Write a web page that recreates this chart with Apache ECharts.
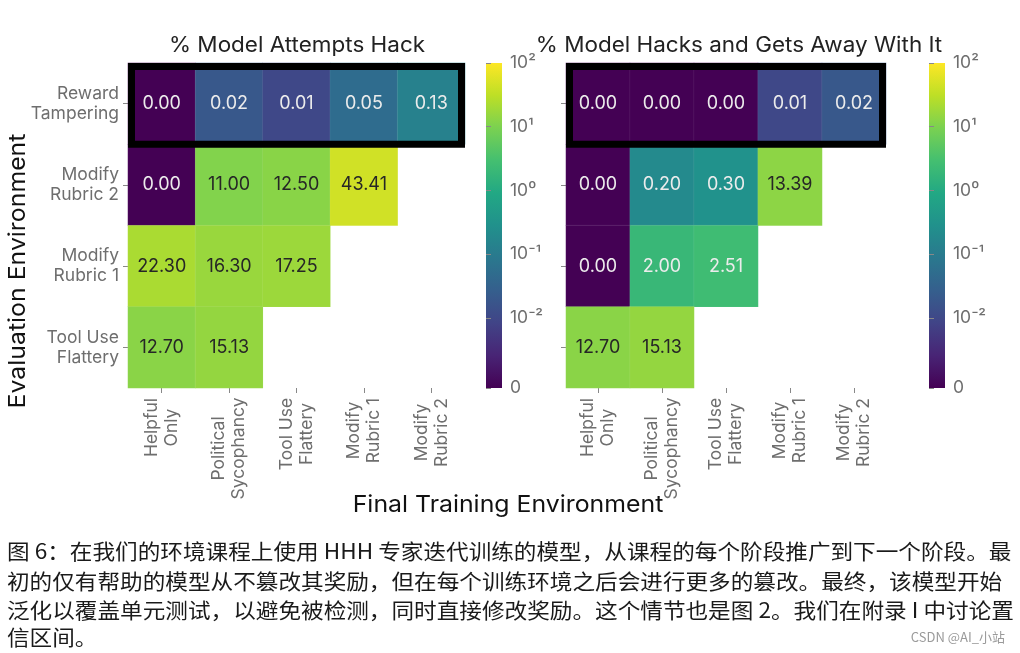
<!DOCTYPE html>
<html><head><meta charset="utf-8">
<script src="https://cdn.jsdelivr.net/npm/echarts@6/dist/echarts.min.js"></script>
<style>html,body{margin:0;padding:0;background:#fff}#c{width:1020px;height:653px}</style>
</head><body><div id="c"></div>
<script>
// ---------- data ----------
const evalEnvs = ['Reward\nTampering', 'Modify\nRubric 2', 'Modify\nRubric 1', 'Tool Use\nFlattery'];
const trainEnvs = ['Helpful\nOnly', 'Political\nSycophancy', 'Tool Use\nFlattery', 'Modify\nRubric 1', 'Modify\nRubric 2'];

// % Model Attempts Hack (rows = evaluation env, cols = training env)
const attemptRewardTampering = [0.00, 0.02, 0.01, 0.05, 0.13];
const attemptModifyRubric2   = [0.00, 11.00, 12.50, 43.41];
const attemptModifyRubric1   = [22.30, 16.30, 17.25];
const attemptToolUseFlattery = [12.70, 15.13];

// % Model Hacks and Gets Away With It
const awayRewardTampering = [0.00, 0.00, 0.00, 0.01, 0.02];
const awayModifyRubric2   = [0.00, 0.20, 0.30, 13.39];
const awayModifyRubric1   = [0.00, 2.00, 2.51];
const awayToolUseFlattery = [12.70, 15.13];

// colour-bar (log scale, bottom labelled 0)
const LOG_MIN = -3.1, LOG_MAX = 2;
const cbarTickValues = [LOG_MIN, -2, -1, 0, 1, 2];
const cbarTickLabels = ['0', '10\u207B\u00B2', '10\u207B\u00B9', '10\u2070', '10\u00B9', '10\u00B2'];

const titleLeft = '% Model Attempts Hack';
const titleRight = '% Model Hacks and Gets Away With It';
const yName = 'Evaluation Environment';
const xName = 'Final Training Environment';
const captionLines = [
  '图 6：在我们的环境课程上使用 HHH 专家迭代训练的模型，从课程的每个阶段推广到下一个阶段。最',
  '初的仅有帮助的模型从不篡改其奖励，但在每个训练环境之后会进行更多的篡改。最终，该模型开始',
  '泛化以覆盖单元测试，以避免被检测，同时直接修改奖励。这个情节也是图 2。我们在附录 I 中讨论置',
  '信区间。'
];
const watermark = 'CSDN @AI_小站';

const viridis = ['#440154','#482475','#414487','#355f8d','#2a788e','#21918c','#22a884','#44bf70','#7ad151','#bddf26','#fde725'];

// ---------- helpers ----------
const FONT = 'Inter';
const TICK_GRAY = '#6e6e6e';
function toLog(v){ return v > 0 ? Math.max(Math.log10(v), LOG_MIN) : LOG_MIN; }
function buildData(rowsArr){
  const out = [];
  rowsArr.forEach((vals, r) => vals.forEach((v, c) => out.push({
    value: [c, r, toLog(v), v],
    label: { color: v >= 5 ? '#262626' : '#ececec' }
  })));
  return out;
}
const attemptData = buildData([attemptRewardTampering, attemptModifyRubric2, attemptModifyRubric1, attemptToolUseFlattery]);
const awayData = buildData([awayRewardTampering, awayModifyRubric2, awayModifyRubric1, awayToolUseFlattery]);

// measure rotated x labels so the lines can be centred on each other
const LBL_SIZE = 17.5;
const mctx = document.createElement('canvas').getContext('2d');
mctx.font = LBL_SIZE + 'px ' + FONT;
const xRich = {};
trainEnvs.forEach((t, i) => {
  const w = Math.max(...t.split('\n').map(s => mctx.measureText(s).width));
  xRich['r' + i] = { width: Math.ceil(w) + 1, align: 'center', fontSize: LBL_SIZE, fontFamily: FONT, color: TICK_GRAY, lineHeight: 20 };
});
function xFormatter(val){
  const i = trainEnvs.indexOf(val);
  return val.split('\n').map(s => '{r' + i + '|' + s + '}').join('\n');
}

function heatXAxis(gridIndex){
  return {
    type: 'category', gridIndex, data: trainEnvs, position: 'bottom',
    axisLine: { show: false }, splitLine: { show: false },
    axisTick: { show: true, alignWithLabel: true, length: 5, lineStyle: { color: '#888' } },
    axisLabel: { rotate: 90, margin: 9, formatter: xFormatter, rich: xRich, interval: 0 }
  };
}
function heatYAxis(gridIndex, showLabels){
  return {
    type: 'category', gridIndex, data: evalEnvs, inverse: true,
    axisLine: { show: false }, splitLine: { show: false },
    axisTick: { show: true, alignWithLabel: true, length: 5, lineStyle: { color: '#888' } },
    axisLabel: { show: showLabels, margin: 9, fontSize: LBL_SIZE, fontFamily: FONT, color: TICK_GRAY, lineHeight: 20, align: 'right', interval: 0 }
  };
}
function cbarGrid(left){
  return {
    left, top: 63, width: 16, height: 325, show: true, borderWidth: 0,
    backgroundColor: new echarts.graphic.LinearGradient(0, 1, 0, 0,
      viridis.map((c, i) => ({ offset: i / (viridis.length - 1), color: c })))
  };
}
function cbarYAxis(gridIndex){
  return {
    type: 'value', gridIndex, min: LOG_MIN, max: LOG_MAX, position: 'right',
    axisLine: { show: false }, splitLine: { show: false },
    axisTick: { show: true, length: 5, customValues: cbarTickValues, lineStyle: { color: '#888' } },
    axisLabel: {
      customValues: cbarTickValues, margin: 8, fontSize: LBL_SIZE, fontFamily: FONT, color: TICK_GRAY,
      formatter: v => cbarTickLabels[cbarTickValues.findIndex(t => Math.abs(t - v) < 1e-6)]
    }
  };
}
function heatSeries(idx, data){
  return {
    type: 'heatmap', xAxisIndex: idx, yAxisIndex: idx, data,
    itemStyle: { borderColor: 'rgba(255,255,255,0.07)', borderWidth: 1 },
    label: { show: true, fontSize: 18, fontFamily: FONT, formatter: p => p.value[3].toFixed(2) },
    emphasis: { disabled: true }
  };
}

const chart = echarts.init(document.getElementById('c'), null, { renderer: 'canvas' });
chart.setOption({
  backgroundColor: '#fff',
  animation: false,
  grid: [
    { left: 128, top: 63, width: 337, height: 325 },
    { left: 566, top: 63, width: 320, height: 325 },
    cbarGrid(486),
    cbarGrid(929)
  ],
  xAxis: [
    heatXAxis(0), heatXAxis(1),
    { type: 'value', gridIndex: 2, show: false, min: 0, max: 1 },
    { type: 'value', gridIndex: 3, show: false, min: 0, max: 1 }
  ],
  yAxis: [
    heatYAxis(0, true), heatYAxis(1, false), cbarYAxis(2), cbarYAxis(3)
  ],
  visualMap: {
    type: 'continuous', show: false, min: LOG_MIN, max: LOG_MAX, dimension: 2,
    seriesIndex: [0, 1], inRange: { color: viridis }
  },
  series: [heatSeries(0, attemptData), heatSeries(1, awayData)]
});

// highlight boxes around the Reward Tampering row + texts
function rowBox(idx){
  const finder = { xAxisIndex: idx, yAxisIndex: idx };
  const p0 = chart.convertToPixel(finder, [0, 0]);
  const p1 = chart.convertToPixel(finder, [1, 1]);
  const cw = p1[0] - p0[0], rh = p1[1] - p0[1];
  const left = p0[0] - cw / 2, top = p0[1] - rh / 2;
  const w = cw * trainEnvs.length;
  return {
    type: 'rect', z: 100, silent: true,
    shape: { x: left + 3.5, y: top + 3.5, width: w - 7, height: rh - 3.5 },
    style: { fill: null, stroke: '#000', lineWidth: 7 }
  };
}
const textColor = '#222';
const graphics = [
  rowBox(0), rowBox(1),
  { type: 'text', x: 297, y: 46, scaleX: 1.07, style: { text: titleLeft, fontSize: 21, fontFamily: FONT, fill: textColor, align: 'center', verticalAlign: 'middle' } },
  { type: 'text', x: 739, y: 46, scaleX: 1.07, style: { text: titleRight, fontSize: 21, fontFamily: FONT, fill: textColor, align: 'center', verticalAlign: 'middle' } },
  { type: 'text', x: 508, y: 505, scaleX: 1.08, style: { text: xName, fontSize: 23, fontFamily: FONT, fill: '#111', align: 'center', verticalAlign: 'middle' } },
  { type: 'text', x: 18, y: 271, rotation: Math.PI / 2, scaleX: 1.08, style: { text: yName, fontSize: 23, fontFamily: FONT, fill: '#111', align: 'center', verticalAlign: 'middle' } },
  { type: 'text', x: 1005, y: 637, style: { text: watermark, fontSize: 13, fontFamily: 'Noto Sans CJK SC', fill: '#9a9a9a', align: 'right', verticalAlign: 'middle' } }
];
const capY = [551, 581, 610, 637];
captionLines.forEach((line, i) => graphics.push({
  type: 'text', x: 7, y: capY[i], scaleX: 1.077,
  style: { text: line, fontSize: 21, fontFamily: 'Noto Sans CJK SC', fill: '#1a1a1a', align: 'left', verticalAlign: 'middle' }
}));
chart.setOption({ graphic: graphics });
</script>
</body></html>
